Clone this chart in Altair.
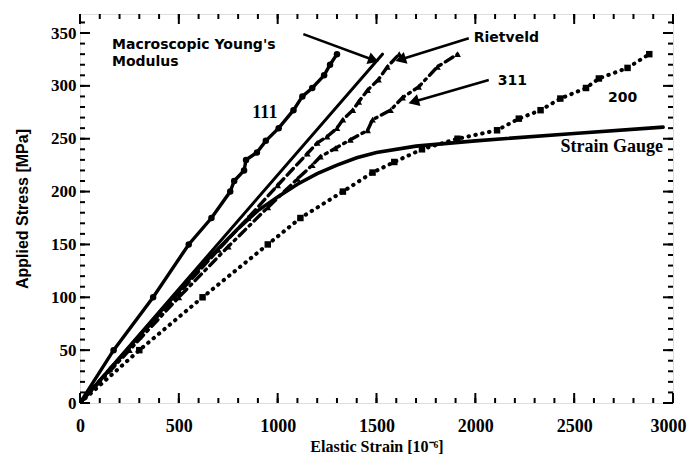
import altair as alt
import pandas as pd

# ---------------- data ----------------
s111_x = [0, 170, 370, 550, 665, 760, 780, 830, 840, 895, 940, 1005, 1080, 1125, 1175, 1235, 1265, 1300]
s111_y = [0, 50, 100, 150, 175, 200, 210, 220, 230, 237, 248, 260, 277, 290, 298, 310, 320, 330]

macro_x = [0, 1530]
macro_y = [0, 330]

riet_x = [0, 150, 300, 500, 700, 850, 1000, 1150, 1200, 1250, 1300, 1330, 1380, 1410, 1455, 1510, 1555, 1615]
riet_y = [0, 32, 63, 104, 145, 175, 206, 236, 246, 252, 260, 268, 277, 285, 296, 306, 318, 330]

s311_x = [0, 250, 500, 750, 950, 1100, 1175, 1216, 1292, 1368, 1455, 1480, 1571, 1632, 1713, 1808, 1910]
s311_y = [0, 50, 100, 148, 185, 212, 225, 233, 241, 249, 258, 268, 277, 289, 299, 318, 330]

s200_x = [0, 300, 620, 950, 1115, 1330, 1480, 1590, 1730, 1910, 2110, 2220, 2330, 2430, 2560, 2625, 2770, 2880]
s200_y = [0, 50, 100, 150, 175, 200, 218, 228, 240, 250, 258, 269, 277, 288, 298, 307, 317, 330]

gauge_x = [0, 200, 400, 600, 800, 900, 1000, 1100, 1200, 1300, 1400, 1500, 1700, 2000, 2500, 2950]
gauge_y = [0, 42, 85, 127, 165, 182, 195, 207, 217, 225, 232, 237, 243, 248, 255, 261]

x_ticks = [0, 500, 1000, 1500, 2000, 2500, 3000]
y_ticks = [0, 50, 100, 150, 200, 250, 300, 350]
x_minor = list(range(0, 3001, 100))
y_minor = list(range(0, 361, 10))

# annotation texts (data coordinates)
sans_text = ["Macroscopic Young's", "Modulus", "Rietveld", "311", "200"]
sans_x = [162, 162, 1992, 2113, 2671]
sans_y = [339, 323, 345, 305, 289]

serif_text = ["111"]
serif_x = [872]
serif_y = [274]

gauge_lab = ["Strain Gauge"]
gauge_lab_x = [2950]
gauge_lab_y = [242]

arrow_x = [1130, 1967, 2068]
arrow_y = [349, 345, 305.6]
arrow_x2 = [1485, 1622, 1688]
arrow_y2 = [324.5, 325, 285]
arrow_angle = [19.4, 162.6, 163.4]

W, H = 593, 389
XS = alt.Scale(domain=[0, 3000], nice=False, zero=False)
YS = alt.Scale(domain=[0, 368], nice=False, zero=False)


def frame(xs, ys):
    return pd.DataFrame({"x": xs, "y": ys, "i": list(range(len(xs)))})


def line(xs, ys, dash=None, width=3.4, main=False):
    kw = dict(color="black", strokeWidth=width, strokeCap="round", clip=True)
    if dash is not None:
        kw["strokeDash"] = dash
    if main:
        xax = alt.Axis(values=x_ticks, orient="bottom", ticks=False, domain=False, grid=False,
                       format="d",
                       labelFont="Liberation Serif", labelFontWeight="bold", labelFontSize=18,
                       labelColor="black", labelPadding=14, labelFlush=False,
                       labelAlign={"condition": {"test": "datum.value == 3000", "value": "right"}, "value": "center"},
                       labelOffset={"condition": {"test": "datum.value == 3000", "value": 13}, "value": 0},
                       title="Elastic Strain [10⁻⁶]", titleFont="Liberation Serif",
                       titleFontWeight="bold", titleFontSize=16, titleColor="black", titlePadding=3)
        yax = alt.Axis(values=y_ticks, orient="left", ticks=False, domain=False, grid=False,
                       format="d",
                       labelFont="Liberation Serif", labelFontWeight="bold", labelFontSize=17,
                       labelColor="black", labelPadding=4, labelFlush=False,
                       title="Applied Stress [MPa]", titleFont="Liberation Sans",
                       titleFontWeight="bold", titleFontSize=16, titleColor="black", titlePadding=20)
    else:
        xax = None
        yax = None
    return alt.Chart(frame(xs, ys)).mark_line(**kw).encode(
        x=alt.X("x:Q", scale=XS, axis=xax),
        y=alt.Y("y:Q", scale=YS, axis=yax),
        order="i:Q",
    )


def points(xs, ys, shape, size):
    return alt.Chart(frame(xs, ys)).mark_point(
        filled=True, shape=shape, size=size, color="black", opacity=1, clip=True
    ).encode(
        x=alt.X("x:Q", scale=XS, axis=None),
        y=alt.Y("y:Q", scale=YS, axis=None),
    )


def xticks(vals, length, top):
    y0 = 0 if top else H
    y1 = length if top else H - length
    return alt.Chart(pd.DataFrame({"v": vals})).mark_rule(color="black", strokeWidth=2).encode(
        x=alt.X("v:Q", scale=XS, axis=None), y=alt.value(y0), y2=alt.value(y1))


def yticks(vals, length, right):
    x0 = W if right else 0
    x1 = W - length if right else length
    return alt.Chart(pd.DataFrame({"v": vals})).mark_rule(color="black", strokeWidth=2).encode(
        y=alt.Y("v:Q", scale=YS, axis=None), x=alt.value(x0), x2=alt.value(x1))


layers = [
    line(gauge_x, gauge_y, width=3.6, main=True),
    line(macro_x, macro_y, width=3.0),
    line(s111_x, s111_y, width=3.4),
    points(s111_x, s111_y, "circle", 42),
    line(riet_x, riet_y, dash=[9, 5], width=3.4),
    points(riet_x, riet_y, "triangle-up", 45),
    line(s311_x, s311_y, dash=[9, 5, 2, 5], width=3.4),
    points(s311_x, s311_y, "triangle-up", 45),
    line(s200_x, s200_y, dash=[0.5, 6.5], width=4.0),
    points(s200_x, s200_y, "square", 42),
]

# inward ticks on all four sides
layers += [
    xticks(x_ticks, 10, False), xticks(x_minor, 5, False),
    xticks(x_ticks, 10, True), xticks(x_minor, 5, True),
    yticks(y_ticks, 10, False), yticks(y_minor, 5, False),
    yticks(y_ticks, 10, True), yticks(y_minor, 5, True),
]

# arrows
arr = pd.DataFrame({"x": arrow_x, "y": arrow_y, "x2": arrow_x2, "y2": arrow_y2, "a": arrow_angle})
layers.append(
    alt.Chart(arr).mark_rule(color="black", strokeWidth=2.5).encode(
        x=alt.X("x:Q", scale=XS, axis=None), y=alt.Y("y:Q", scale=YS, axis=None),
        x2="x2:Q", y2="y2:Q")
)
layers.append(
    alt.Chart(arr).mark_point(shape="triangle-right", filled=True, color="black", opacity=1, size=150).encode(
        x=alt.X("x2:Q", scale=XS, axis=None), y=alt.Y("y2:Q", scale=YS, axis=None),
        angle=alt.Angle("a:Q", scale=None))
)

# labels
layers.append(
    alt.Chart(pd.DataFrame({"t": sans_text, "x": sans_x, "y": sans_y})).mark_text(
        font="DejaVu Sans", fontWeight="bold", fontSize=14, align="left", baseline="middle", color="black"
    ).encode(x=alt.X("x:Q", scale=XS, axis=None), y=alt.Y("y:Q", scale=YS, axis=None), text="t:N")
)
layers.append(
    alt.Chart(pd.DataFrame({"t": serif_text, "x": serif_x, "y": serif_y})).mark_text(
        font="Liberation Serif", fontWeight="bold", fontSize=18, align="left", baseline="middle", color="black"
    ).encode(x=alt.X("x:Q", scale=XS, axis=None), y=alt.Y("y:Q", scale=YS, axis=None), text="t:N")
)
layers.append(
    alt.Chart(pd.DataFrame({"t": gauge_lab, "x": gauge_lab_x, "y": gauge_lab_y})).mark_text(
        font="Liberation Serif", fontWeight="bold", fontSize=18, align="right", baseline="middle", color="black"
    ).encode(x=alt.X("x:Q", scale=XS, axis=None), y=alt.Y("y:Q", scale=YS, axis=None), text="t:N")
)

chart = alt.layer(*layers).resolve_scale(x="independent", y="independent").properties(
    width=W, height=H,
    autosize=alt.AutoSizeParams(type="none"),
    padding={"left": 72, "top": 6, "right": 14, "bottom": 54},
).configure_view(stroke="black", strokeWidth=3).configure(background="white")

chart.save("out.html", embed_options={"renderer": "svg", "actions": False})
